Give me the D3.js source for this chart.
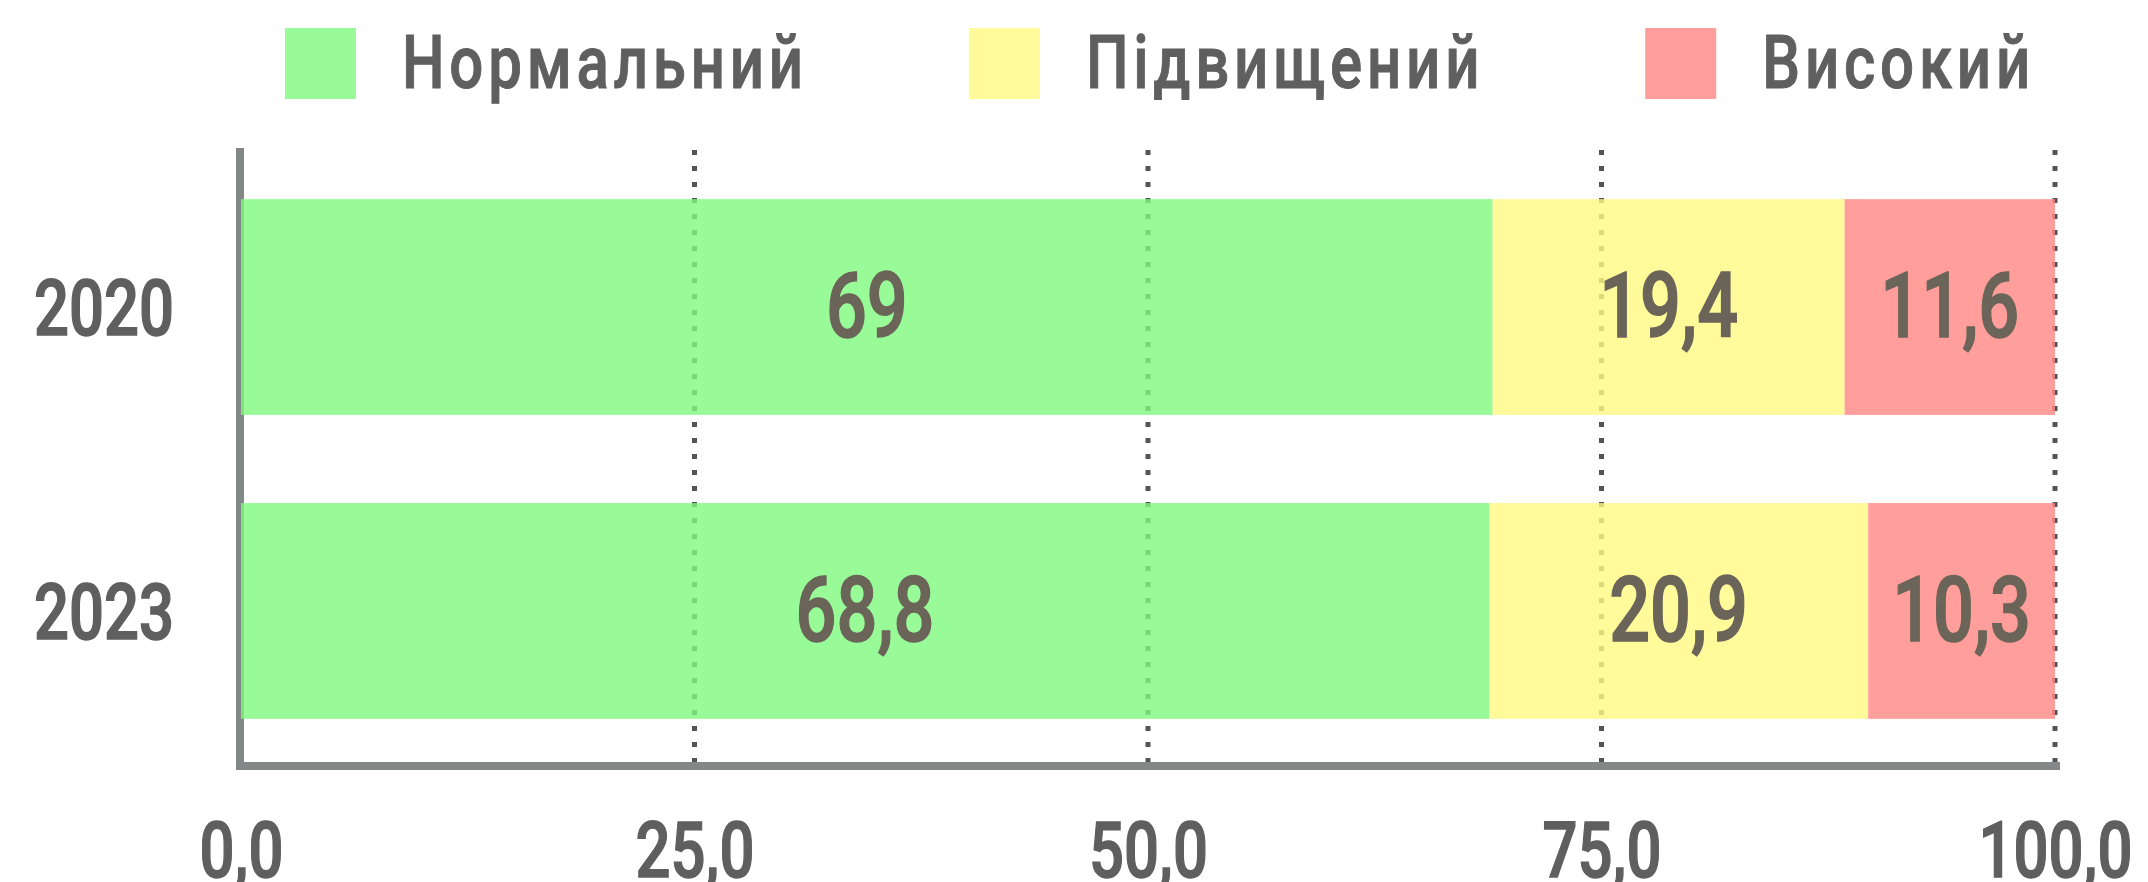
<!DOCTYPE html>
<html>
<head>
<meta charset="utf-8">
<script src="https://cdn.jsdelivr.net/npm/d3@7"></script>
<style>
  html, body { margin: 0; padding: 0; background: #fff; }
  svg { display: block; }
  text { font-family: Roboto, 'DejaVu Sans Condensed', sans-serif; font-weight: 500; }
</style>
</head>
<body>
<div id="chart"></div>
<script>
  // data
  var categories = ['2020', '2023'];
  var seriesNames = ['Нормальний', 'Підвищений', 'Високий'];
  var normal   = [69, 68.8];
  var elevated = [19.4, 20.9];
  var high     = [11.6, 10.3];
  var xTicks   = [0, 25, 50, 75, 100];
  var gridTicks = [25, 50, 75, 100];
  var colors   = ['#7efa7e', '#fff981', '#ff8681'];

  var width = 2148, height = 882;
  var sx = 0.8;
  var squeeze = 'scale(' + sx + ',1)';   // the original font is a narrow DIN

  var svg = d3.select('#chart').append('svg')
              .attr('width', width)
              .attr('height', height);

  var x = d3.scaleLinear().domain([0, 100]).range([241, 2055]);
  var y = d3.scaleBand().domain(categories).range([111, 807])
            .paddingInner(0.29).paddingOuter(0.29);

  var rows = categories.map(function(c, i){
    return { year: c, 'Нормальний': normal[i], 'Підвищений': elevated[i], 'Високий': high[i] };
  });
  var stacked = d3.stack().keys(seriesNames)(rows);

  var fmt = function(d){ return d3.format('.1f')(d).replace('.', ','); };
  var fmtVal = function(d){ return String(+d.toFixed(1)).replace('.', ','); };

  // grid lines (under the bars)
  svg.append('g').selectAll('line')
     .data(gridTicks)
     .enter().append('line')
     .attr('x1', d => x(d)).attr('x2', d => x(d))
     .attr('y1', 150).attr('y2', 762)
     .attr('stroke', '#555')
     .attr('stroke-width', 5)
     .attr('stroke-dasharray', '5,11');

  // axis lines
  svg.append('line')
     .attr('x1', x(0) - 1).attr('x2', x(0) - 1)
     .attr('y1', 148).attr('y2', 770)
     .attr('stroke', '#838787').attr('stroke-width', 8);
  svg.append('line')
     .attr('x1', x(0) - 5).attr('x2', x(100) + 5)
     .attr('y1', 766).attr('y2', 766)
     .attr('stroke', '#838787').attr('stroke-width', 8);

  // bars
  var layers = svg.append('g').selectAll('g')
     .data(stacked)
     .enter().append('g')
     .attr('fill', (d, i) => colors[i])
     .attr('fill-opacity', 0.8);

  layers.selectAll('rect')
     .data(d => d)
     .enter().append('rect')
     .attr('x', d => x(d[0]))
     .attr('width', d => x(d[1]) - x(d[0]))
     .attr('y', d => y(d.data.year))
     .attr('height', y.bandwidth());

  // value labels
  stacked.forEach(function(layer){
    svg.append('g').selectAll('g')
       .data(layer)
       .enter().append('g')
       .attr('transform', d => 'translate(' + ((x(d[0]) + x(d[1])) / 2) + ',' +
                                (y(d.data.year) + y.bandwidth() / 2 + 30) + ')')
       .append('text')
       .attr('transform', squeeze)
       .attr('text-anchor', 'middle')
       .attr('font-size', 90)
       .attr('fill', '#6b6458')
       .attr('stroke', '#6b6458').attr('stroke-width', 1.5)
       .text(d => fmtVal(d[1] - d[0]));
  });

  // x axis tick labels
  var xAxis = svg.append('g')
     .attr('transform', 'translate(0,877)')
     .call(d3.axisBottom(x).tickValues(xTicks).tickFormat(fmt).tickSize(0).tickPadding(0));
  xAxis.select('.domain').remove();
  xAxis.attr('font-family', null).attr('font-size', null);
  xAxis.selectAll('text')
     .attr('y', 0).attr('dy', 0)
     .attr('transform', squeeze)
     .attr('font-size', 77)
     .attr('fill', '#5f5f5f')
     .attr('stroke', '#5f5f5f').attr('stroke-width', 1.5);

  // y axis labels
  var yAxis = svg.append('g')
     .attr('transform', 'translate(' + (x(0) - 67) + ',0)')
     .call(d3.axisLeft(y).tickSize(0).tickPadding(0));
  yAxis.select('.domain').remove();
  yAxis.attr('font-family', null).attr('font-size', null);
  yAxis.selectAll('text')
     .attr('x', 0).attr('dy', '0.36em')
     .attr('transform', squeeze)
     .attr('font-size', 77)
     .attr('fill', '#5f5f5f')
     .attr('stroke', '#5f5f5f').attr('stroke-width', 1.5);

  // legend
  var legend = svg.append('g');
  var items = legend.selectAll('g')
     .data(seriesNames)
     .enter().append('g');
  items.append('rect')
     .attr('x', 0).attr('y', 28)
     .attr('width', 71).attr('height', 71)
     .attr('fill', (d, i) => colors[i])
     .attr('fill-opacity', 0.8);
  items.append('text')
     .attr('transform', 'translate(117,88) ' + squeeze)
     .attr('font-size', 75)
     .attr('letter-spacing', 6)
     .attr('fill', '#5f5f5f')
     .attr('stroke', '#5f5f5f').attr('stroke-width', 1)
     .text(d => d);

  var offset = 0, widths = [];
  items.each(function(d){
    var w = 117 + sx * d3.select(this).select('text').node().getComputedTextLength();
    widths.push(w);
  });
  var total = d3.sum(widths) + 161 * (widths.length - 1);
  var start = 1160 - total / 2;
  items.attr('transform', function(d, i){
    var t = 'translate(' + (start + offset) + ',0)';
    offset += widths[i] + 161;
    return t;
  });
</script>
</body>
</html>
